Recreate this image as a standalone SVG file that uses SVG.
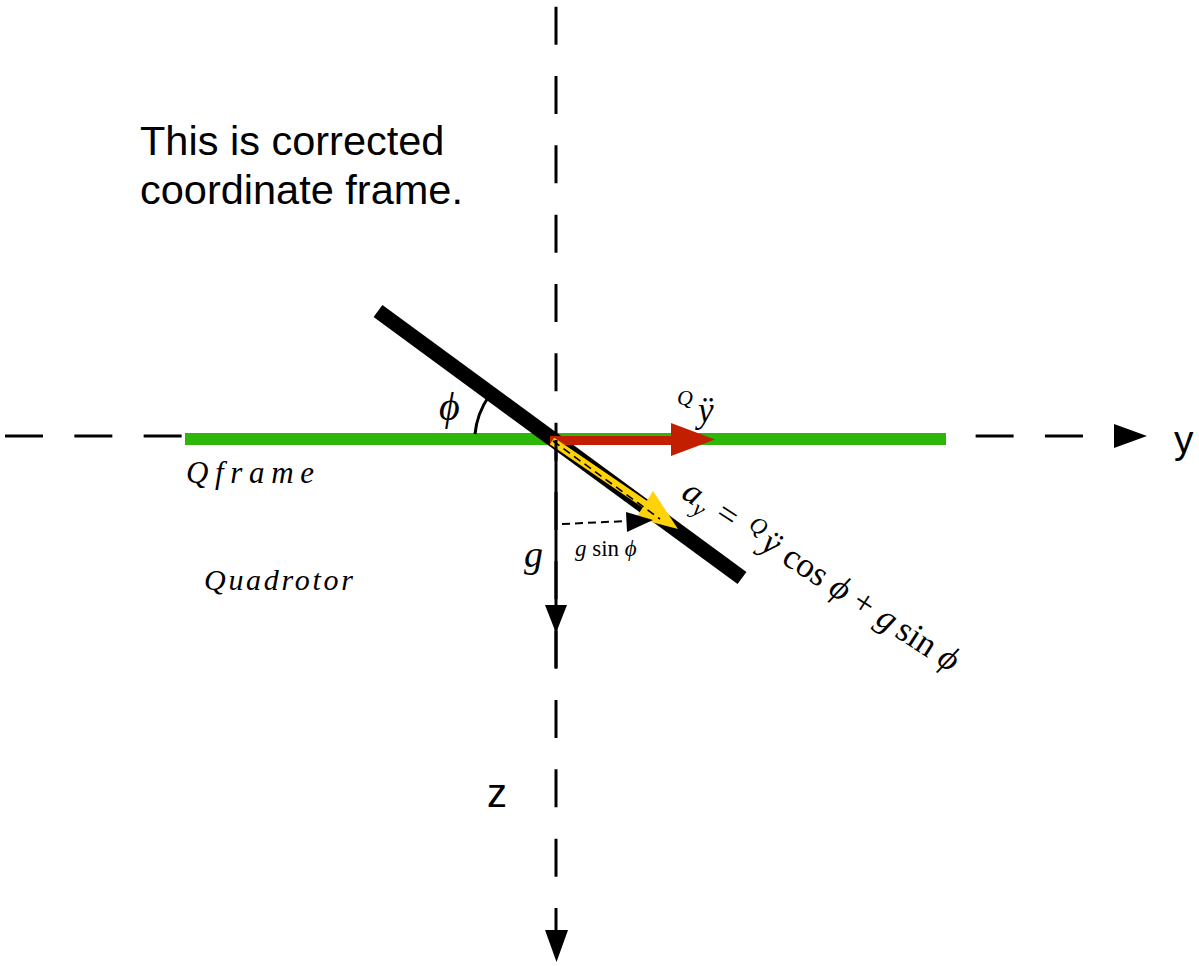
<svg xmlns="http://www.w3.org/2000/svg" width="1199" height="966" viewBox="0 0 1199 966">
<style>
.axis{stroke:#000;stroke-width:3;stroke-dasharray:38 31.33;fill:none}
.sans{font-family:"Liberation Sans",Arial,sans-serif;fill:#000}
.math{font-family:"Liberation Serif","DejaVu Serif",serif;font-style:italic;fill:#000}
.rm{font-style:normal}
</style>
<rect width="1199" height="966" fill="#fff"/>
<g id="connectors">
  <line class="axis" x1="5" y1="436" x2="1116" y2="436"/>
  <polygon points="1114,424 1147,436 1114,448" fill="#000"/>
  <line class="axis" x1="556" y1="6.7" x2="556" y2="931"/>
  <polygon points="545,930 568,930 556.5,962" fill="#000"/>
</g>
<g id="qframe">
  <line x1="185" y1="439" x2="946" y2="439" stroke="#2DB70B" stroke-width="12"/>
</g>
<g id="quadrotor-bar">
  <line x1="378" y1="311" x2="742" y2="578" stroke="#000" stroke-width="15"/>
</g>
<g id="angle">
  <path d="M475,434 A81 81 0 0 1 489,396" fill="none" stroke="#000" stroke-width="3"/>
  <text class="math" x="439" y="420" font-size="40">ϕ</text>
</g>
<g id="accel-y">
  <line x1="550" y1="440.5" x2="673" y2="440.5" stroke="#C21F00" stroke-width="9"/>
  <polygon points="671,423 715,439.5 671,456" fill="#C21F00"/>
  <text class="math" x="677" y="405" font-size="22">Q</text>
  <text class="math" x="698" y="422" font-size="35">ÿ</text>
</g>
<g id="accel-ay">
  <line x1="552" y1="441" x2="646" y2="505" stroke="#FFD20A" stroke-width="8"/>
  <polygon points="653,491 678,529 636,518" fill="#FFD20A"/>
  <line x1="553" y1="441" x2="660" y2="519" stroke="#000" stroke-width="1.6" stroke-dasharray="8 5"/>
  <text class="math" font-size="35" transform="translate(680,497) rotate(33)">a<tspan font-size="23" dy="7">y</tspan><tspan class="rm" dy="-7" dx="12">=</tspan><tspan dx="14" dy="-11" font-size="23">Q</tspan><tspan dy="11" dx="4">ÿ</tspan><tspan class="rm" dx="10">cos</tspan><tspan dx="9">ϕ</tspan><tspan class="rm" dx="9">+</tspan><tspan dx="9">g</tspan><tspan class="rm" dx="6">sin</tspan><tspan dx="9">ϕ</tspan></text>
</g>
<g id="gravity">
  <line x1="556" y1="440" x2="556" y2="668" stroke="#000" stroke-width="3"/>
  <polygon points="545,605 567,605 556,633" fill="#000"/>
  <text class="math" x="524" y="567" font-size="38">g</text>
</g>
<g id="gsin">
  <line x1="562" y1="524" x2="628" y2="521" stroke="#000" stroke-width="2" stroke-dasharray="8 5"/>
  <polygon points="626,512 653,520 627,532" fill="#000"/>
  <text class="math" x="575" y="556" font-size="23">g <tspan class="rm">sin</tspan> ϕ</text>
</g>
<g id="labels">
  <text class="sans" x="140" y="155" font-size="41.5">This is corrected</text>
  <text class="sans" x="140" y="204" font-size="41.5">coordinate frame.</text>
  <text class="sans" x="1174" y="453" font-size="39">y</text>
  <text class="sans" x="487" y="807" font-size="40">z</text>
  <text class="math" x="186" y="483" font-size="31" textLength="128" lengthAdjust="spacing">Qframe</text>
  <text class="math" x="204" y="590" font-size="30" textLength="149" lengthAdjust="spacing">Quadrotor</text>
</g>
</svg>
